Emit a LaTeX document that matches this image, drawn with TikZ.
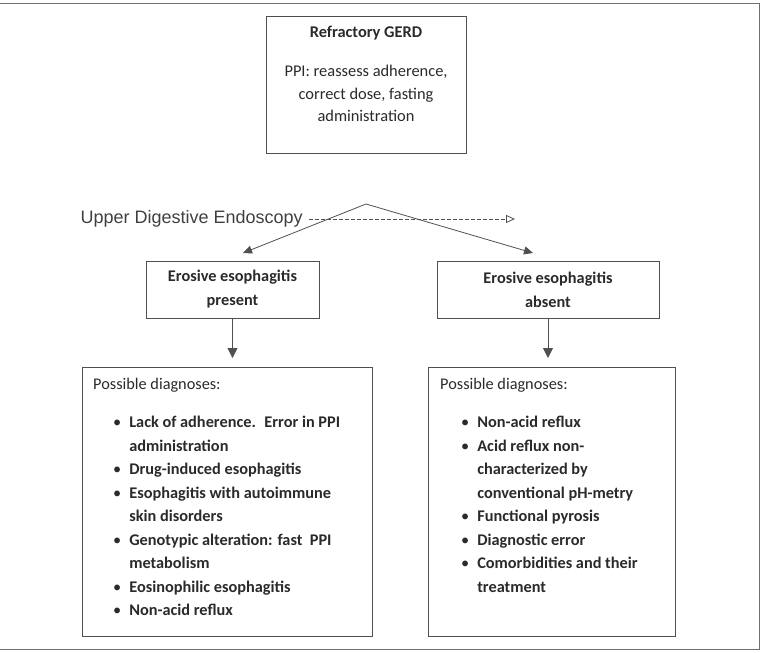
\documentclass[tikz,border=0pt]{standalone}
\usepackage{fontspec}
\setmainfont{Carlito}
\newfontfamily\arialfont{Liberation Sans}
\usetikzlibrary{arrows.meta,positioning}
\definecolor{linegray}{HTML}{505050}
\definecolor{textgray}{HTML}{2A2A2A}
\definecolor{framegray}{HTML}{707070}
\begin{document}
\begin{tikzpicture}[x=1pt,y=-1pt,text=textgray]
        \tikzset{box/.style={draw=linegray,line width=0.8pt,inner sep=0pt},
                 headbox/.style={box,minimum width=173pt,minimum height=57pt,align=center,font=\fontsize{16.3}{24}\selectfont\bfseries},
                 dxbox/.style={box,anchor=north west,minimum height=269pt},
                 dxlist/.style={anchor=base west,inner sep=0pt,font=\fontsize{16.3}{23.5}\selectfont\bfseries},
                 dxhead/.style={anchor=base west,inner sep=0pt,font=\fontsize{16.3}{18}\selectfont},
                 arr/.style={draw=linegray,line width=0.8pt,-{Triangle[width=10pt,length=10pt]}},
                 slant/.style={draw=linegray,line width=0.8pt,-{Triangle[width=8pt,length=9pt]}}};
        \useasboundingbox (0,0) rectangle (763,653);
        \draw[framegray,line width=1pt] (0,3) -- (759,3) -- (759,649) -- (0,649);
        \node[box,minimum width=200pt,minimum height=137pt] (gerd) at (366,84.5) {};
        \node[anchor=base,inner sep=0pt,font=\fontsize{16.4}{18}\selectfont\bfseries] (gerdtitle) at (366,37.5) {Refractory GERD};
        \node[anchor=base,inner sep=0pt,font=\fontsize{16.4}{22.5}\selectfont] (gerdtext) at (366,76.5) {\begin{tabular}[t]{@{}c@{}}
            PPI: reassess adherence,\\correct dose, fasting\\administration
        \end{tabular}};
        \coordinate (apex) at (366,204);
        \node[anchor=east,inner sep=0pt,text=black!75,font=\arialfont\fontsize{18}{20}\selectfont] (endo) at (303,219) {Upper Digestive Endoscopy};
        \coordinate (endoend) at (515,219);
        \draw[linegray,line width=0.8pt,dash pattern=on 4pt off 2pt,-{Triangle[open,width=8pt,length=9pt]}] ([xshift=6pt]endo.east) -- (endoend);
        \coordinate (lefttip) at (243,253);
        \coordinate (righttip) at (533,253);
        \draw[slant] (apex) -- (lefttip);
        \draw[slant] (apex) -- (righttip);
        \node[headbox] (present) at (232.5,289.5) {Erosive esophagitis\\present};
        \node[headbox,minimum width=222pt] (absent) at (548,289.5) {Erosive esophagitis\\absent};
        \node[dxbox,minimum width=290pt] (presentdx) at (82,367) {};
        \node[dxbox,minimum width=247pt] (absentdx) at (428,367) {};
        \draw[arr,shorten >=9pt] (present.south) -- (present.south |- presentdx.north);
        \draw[arr,shorten >=9pt] (absent.south) -- (absent.south |- absentdx.north);
        \node[dxhead] (presenthead) at (93,389.5) {Possible diagnoses:};
        \node[dxhead] (absenthead) at (440,389.5) {Possible diagnoses:};
        \node[dxlist] (presentitems) at (113,427.5) {\begin{tabular}[t]{@{}l@{\hspace{8pt}}l@{}}
            \textmd{\textbullet} & Lack of adherence.~ Error in PPI\\
             & administration\\
            \textmd{\textbullet} & Drug-induced esophagitis\\
            \textmd{\textbullet} & Esophagitis with autoimmune\\
             & skin disorders\\
            \textmd{\textbullet} & Genotypic alteration: fast~ PPI\\
             & metabolism\\
            \textmd{\textbullet} & Eosinophilic esophagitis\\
            \textmd{\textbullet} & Non-acid reflux
        \end{tabular}};
        \node[dxlist] (absentitems) at (461,427.5) {\begin{tabular}[t]{@{}l@{\hspace{8pt}}l@{}}
            \textmd{\textbullet} & Non-acid reflux\\
            \textmd{\textbullet} & Acid reflux non-\\
             & characterized by\\
             & conventional pH-metry\\
            \textmd{\textbullet} & Functional pyrosis\\
            \textmd{\textbullet} & Diagnostic error\\
            \textmd{\textbullet} & Comorbidities and their\\
             & treatment
        \end{tabular}};
    \end{tikzpicture}
\end{document}
